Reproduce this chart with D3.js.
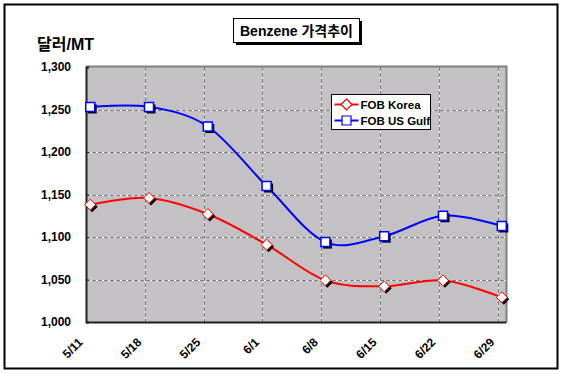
<!doctype html>
<html>
<head>
<meta charset="utf-8">
<script src="https://cdnjs.cloudflare.com/ajax/libs/d3/7.8.5/d3.min.js"></script>
<style>
  body { margin: 0; background: #fff; }
  text { font-family: "Liberation Sans", Arial, "Noto Sans CJK KR", sans-serif; font-weight: bold; }
</style>
</head>
<body>
<svg id="chart" width="563" height="374"></svg>
<script>
// data
var dates = ["5/11", "5/18", "5/25", "6/1", "6/8", "6/15", "6/22", "6/29"];
var fobKorea = [1138, 1146, 1127, 1091, 1049, 1042, 1049, 1029];
var fobUsGulf = [1253, 1253, 1230, 1160, 1094, 1101, 1125, 1113];
var yTicks = [1000, 1050, 1100, 1150, 1200, 1250, 1300];
var seriesNames = ["FOB Korea", "FOB US Gulf"];

var svg = d3.select("#chart");
var parse = d3.timeParse("%m/%d");
var day = 24 * 3600 * 1000;

var pLeft = 86, pRight = 506, pTop = 67, pBottom = 322;

// date axis: each day owns a slot, points sit in the middle of it
var first = parse(dates[0]);
var last = new Date(+parse(dates[dates.length - 1]) + day);
var x = d3.scaleTime().domain([first, last]).range([pLeft, pRight]);
var y = d3.scaleLinear().domain([1000, 1300]).range([pBottom, pTop]);
var px = function(d) { return x(new Date(+parse(d) + day / 2)); };

// outer frame
svg.append("rect").attr("x", 4.5).attr("y", 4.5).attr("width", 553).attr("height", 364)
  .attr("fill", "white").attr("stroke", "black").attr("stroke-width", 2);

// plot area
svg.append("rect").attr("x", pLeft).attr("y", pTop).attr("width", pRight - pLeft).attr("height", pBottom - pTop)
  .attr("fill", "#c3c1c3");

// grid
var hg = yTicks.slice(1, -1);
svg.selectAll(".hgw").data(hg).enter().append("line")
  .attr("x1", pLeft).attr("x2", pRight).attr("y1", d => Math.round(y(d)) + 0.5).attr("y2", d => Math.round(y(d)) + 0.5)
  .attr("stroke", "white");
svg.selectAll(".hgd").data(hg).enter().append("line")
  .attr("x1", pLeft).attr("x2", pRight).attr("y1", d => Math.round(y(d)) + 0.5).attr("y2", d => Math.round(y(d)) + 0.5)
  .attr("stroke", "#808080").attr("stroke-dasharray", "4,2");
var vg = dates.slice(1);
svg.selectAll(".vgw").data(vg).enter().append("line")
  .attr("x1", d => Math.round(x(parse(d))) + 0.5).attr("x2", d => Math.round(x(parse(d))) + 0.5)
  .attr("y1", pTop).attr("y2", pBottom).attr("stroke", "white");
svg.selectAll(".vgd").data(vg).enter().append("line")
  .attr("x1", d => Math.round(x(parse(d))) + 0.5).attr("x2", d => Math.round(x(parse(d))) + 0.5)
  .attr("y1", pTop).attr("y2", pBottom).attr("stroke", "#808080").attr("stroke-dasharray", "4,2");

// top / right border in gray
svg.append("path").attr("d", "M" + pLeft + "," + (pTop - 0.5) + "H" + (pRight + 0.5) + "V" + pBottom)
  .attr("fill", "none").attr("stroke", "#808080").attr("stroke-width", 2);

// y axis
var yAxis = d3.axisLeft(y).tickValues(yTicks).tickSize(-3).tickPadding(15).tickFormat(d3.format(","));
var gy = svg.append("g").attr("transform", "translate(" + pLeft + ",0)").call(yAxis);
gy.select(".domain").attr("stroke", "#202020").attr("stroke-width", 2);
gy.selectAll("line").attr("stroke", "#202020");
gy.selectAll("text").attr("font-size", 12).attr("fill", "black");

// x axis
var xAxis = d3.axisBottom(x).tickValues(dates.map(parse)).tickSize(0).tickFormat(d3.timeFormat("%-m/%-d"));
var gx = svg.append("g").attr("transform", "translate(0," + pBottom + ")").call(xAxis);
gx.select(".domain").attr("stroke", "#202020").attr("stroke-width", 2);
gx.selectAll("text").attr("font-size", 12).attr("fill", "black")
  .attr("text-anchor", "end").attr("dy", 0).attr("y", 0)
  .attr("transform", "translate(-3,21) rotate(-45)");

// lines
var line = d3.line().x(d => px(d.date)).y(d => y(d.v)).curve(d3.curveCatmullRom.alpha(0));
var series = [
  { name: seriesNames[0], values: fobKorea, color: "#ff0000", shape: "diamond" },
  { name: seriesNames[1], values: fobUsGulf, color: "#0000ff", shape: "square" }
];
var shapePath = function(shape) {
  return shape === "diamond" ? "M0,-5.5L5.5,0L0,5.5L-5.5,0Z" : "M-4.5,-4.5H4.5V4.5H-4.5Z";
};
series.forEach(function(s) {
  var pts = dates.map((d, i) => ({ date: d, v: s.values[i] }));
  svg.append("path").datum(pts).attr("d", line).attr("fill", "none")
    .attr("stroke", s.color).attr("stroke-width", 2);
  var g = svg.append("g");
  g.selectAll(".sh").data(pts).enter().append("path")
    .attr("d", shapePath(s.shape))
    .attr("transform", d => "translate(" + (px(d.date) + 2) + "," + (y(d.v) + 2) + ")")
    .attr("fill", "black");
  g.selectAll(".mk").data(pts).enter().append("path")
    .attr("d", shapePath(s.shape))
    .attr("transform", d => "translate(" + px(d.date) + "," + y(d.v) + ")")
    .attr("fill", "white").attr("stroke", s.color).attr("stroke-width", s.shape === "square" ? 1.5 : 1);
});

// legend
var lg = svg.append("g").attr("transform", "translate(331.5,94.5)");
lg.append("rect").attr("width", 99).attr("height", 35).attr("fill", "white").attr("stroke", "black");
series.forEach(function(s, i) {
  var yy = 10 + i * 16;
  lg.append("line").attr("x1", 3).attr("x2", 27).attr("y1", yy).attr("y2", yy)
    .attr("stroke", s.color).attr("stroke-width", 2);
  lg.append("path").attr("d", shapePath(s.shape)).attr("transform", "translate(15," + yy + ")")
    .attr("fill", "white").attr("stroke", s.color).attr("stroke-width", 1.2);
  lg.append("text").attr("x", 29).attr("y", yy + 4).attr("font-size", 11.5).text(s.name);
});

// title box
svg.append("rect").attr("x", 236).attr("y", 21).attr("width", 126).attr("height", 24).attr("fill", "black");
svg.append("rect").attr("x", 233.5).attr("y", 18.5).attr("width", 126).attr("height", 24)
  .attr("fill", "white").attr("stroke", "black");
svg.append("text").attr("x", 296.5).attr("y", 36).attr("text-anchor", "middle")
  .attr("font-size", 14).text("Benzene 가격추이");

// unit label
svg.append("text").attr("x", 37).attr("y", 50).attr("font-size", 16).text("달러/MT");
</script>
</body>
</html>
